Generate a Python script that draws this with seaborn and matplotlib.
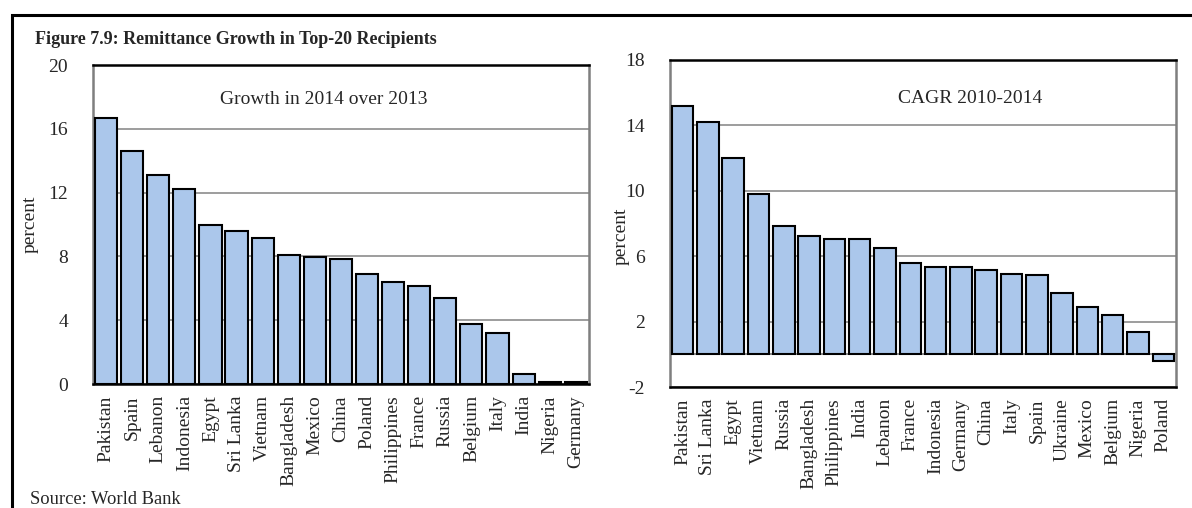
import matplotlib
matplotlib.use("Agg")
import matplotlib.pyplot as plt
import seaborn as sns
import pandas as pd
from matplotlib.patches import Rectangle

# Growth in 2014 over 2013
paises_2014 = ["Pakistan", "Spain", "Lebanon", "Indonesia", "Egypt", "Sri Lanka",
               "Vietnam", "Bangladesh", "Mexico", "China", "Poland", "Philippines",
               "France", "Russia", "Belgium", "Italy", "India", "Nigeria", "Germany"]
cresc_2014 = [16.67, 14.6, 13.1, 12.25, 9.98, 9.58, 9.15, 8.08, 7.98, 7.85, 6.9,
              6.37, 6.16, 5.38, 3.76, 3.22, 0.65, 0.12, 0.1]

# CAGR 2010-2014
paises_cagr = ["Pakistan", "Sri Lanka", "Egypt", "Vietnam", "Russia", "Bangladesh",
               "Philippines", "India", "Lebanon", "France", "Indonesia", "Germany",
               "China", "Italy", "Spain", "Ukraine", "Mexico", "Belgium", "Nigeria",
               "Poland"]
cagr = [15.16, 14.2, 12.0, 9.8, 7.86, 7.24, 7.04, 7.04, 6.5, 5.57, 5.37, 5.37,
        5.14, 4.92, 4.84, 3.76, 2.92, 2.39, 1.37, -0.43]

ticks_esq = [0, 4, 8, 12, 16, 20]
ticks_dir = [-2, 2, 6, 10, 14, 18]

AZUL = "#abc7eb"

sns.set_style("white")
plt.rcParams["font.family"] = ["Liberation Serif", "DejaVu Serif"]
plt.rcParams["axes.unicode_minus"] = False

fig = plt.figure(figsize=(11.92, 5.08), dpi=100)
ax1 = fig.add_axes([0.078, 0.244, 0.416, 0.628])
ax2 = fig.add_axes([0.562, 0.238, 0.4245, 0.644])


def desenha(ax, nomes, valores, ticks, texto, tx, ty, lx, ly):
    df = pd.DataFrame({"pais": nomes, "valor": valores})
    sns.barplot(data=df, x="pais", y="valor", color=AZUL, saturation=1,
                edgecolor="black", linewidth=1.5, width=0.85, ax=ax, zorder=3)
    ax.set_ylim(ticks[0], ticks[-1])
    ax.set_yticks(ticks)
    ax.set_xlim(-0.5, len(nomes) - 0.5)
    ax.yaxis.grid(True, color="#8c8c8c", linewidth=1.2, zorder=0)
    ax.set_axisbelow(True)
    ax.tick_params(axis="both", length=0, labelsize=14)
    ax.tick_params(axis="y", pad=18)
    ax.tick_params(axis="x", pad=8)
    ax.set_xticks(range(len(nomes)))
    ax.set_xticklabels(nomes, rotation=90)
    ax.set_xlabel("")
    ax.set_ylabel("percent", fontsize=14)
    ax.yaxis.set_label_coords(lx, ly)
    for lado in ["top", "bottom"]:
        ax.spines[lado].set_color("black")
        ax.spines[lado].set_linewidth(1.8)
    for lado in ["left", "right"]:
        ax.spines[lado].set_color("#7f7f7f")
        ax.spines[lado].set_linewidth(1.8)
    ax.text(tx, ty, texto, transform=ax.transAxes, fontsize=14,
            ha="center", va="center")


desenha(ax1, paises_2014, cresc_2014, ticks_esq, "Growth in 2014 over 2013",
        0.466, 0.893, -0.109, 0.5)
desenha(ax2, paises_cagr, cagr, ticks_dir, "CAGR 2010-2014",
        0.593, 0.881, -0.08, 0.46)
ax2.axhline(0, color="#8c8c8c", linewidth=1.4, zorder=2)

fig.text(35 / 1192, 1 - 39 / 508, "Figure 7.9: Remittance Growth in Top-20 Recipients",
         fontsize=13, fontweight="bold", ha="left", va="center")
fig.text(30 / 1192, 1 - 499 / 508, "Source: World Bank", fontsize=13.3,
         ha="left", va="center")

fig.patches.append(Rectangle((12 / 1192, -0.05), 1.2, 1 - 15 / 508 + 0.05,
                             transform=fig.transFigure, fill=False,
                             edgecolor="black", linewidth=2.2))

fig.savefig("out.png", dpi=100)
plt.close(fig)
